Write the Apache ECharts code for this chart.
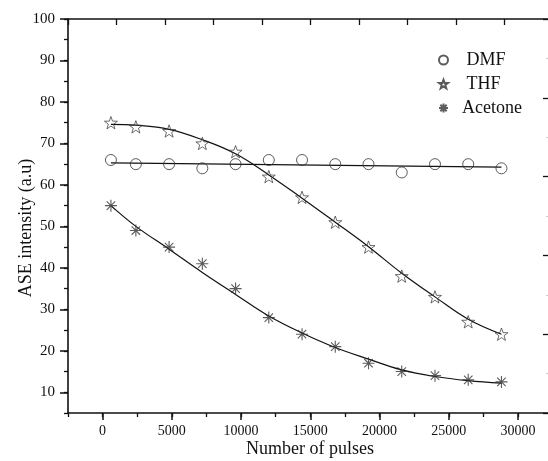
<!DOCTYPE html>
<html>
<head>
<meta charset="utf-8">
<script src="https://cdn.jsdelivr.net/npm/echarts@6/dist/echarts.min.js"></script>
<style>html,body{margin:0;padding:0;background:#fff}#c{width:548px;height:461px}</style>
</head>
<body>
<div id="c"></div>
<script>
// ---- data ----
const pulses = [600, 2400, 4800, 7200, 9600, 12000, 14400, 16800, 19200, 21600, 24000, 26400, 28800];
const dmf = [66, 65, 65, 64, 65, 66, 66, 65, 65, 63, 65, 65, 64];
const thf = [75, 74, 73, 70, 68, 62, 57, 51, 45, 38, 33, 27, 24];
const acetone = [55, 49, 45, 41, 35, 28, 24, 21, 17, 15, 14, 13, 12.5];
const dmfFitX = [600, 28800];
const dmfFit = [65.3, 64.3];
const thfFit = [74.6, 74.4, 73.4, 70.9, 67.5, 62.4, 56.8, 51.0, 45.1, 38.7, 33.0, 27.6, 24.0];
const acetoneFit = [55.0, 50.0, 44.5, 38.9, 33.6, 28.4, 24.3, 20.8, 18.0, 15.4, 13.8, 12.8, 12.2];
const xTicks = [0, 5000, 10000, 15000, 20000, 25000, 30000];
const yTicks = [10, 20, 30, 40, 50, 60, 70, 80, 90, 100];
const seriesNames = ['DMF', 'THF', 'Acetone'];
const xTitle = 'Number of pulses';
const yTitle = 'ASE intensity (a.u)';

const pair = (xs, ys) => xs.map((x, i) => [x, ys[i]]);
const FONT = '"Liberation Serif", "Times New Roman", serif';
const INK = '#111';
const STAR = 'path://M0,-10L2.35,-3.24L9.51,-3.09L3.8,1.24L5.88,8.09L0,4L-5.88,8.09L-3.8,1.24L-9.51,-3.09L-2.35,-3.24Z';
const AST = 'path://M0,-10L0,10M-10,0L10,0M-7.07,-7.07L7.07,7.07M-7.07,7.07L7.07,-7.07';

const chart = echarts.init(document.getElementById('c'), null, {renderer: 'canvas'});
const axLine = {show: true, onZero: false, lineStyle: {color: INK, width: 1.6}};
const XMAX = 32450;
chart.setOption({
  backgroundColor: '#fff',
  animation: false,
  grid: {left: 68, top: 19, right: -4, bottom: 48, containLabel: false, outerBoundsMode: 'none'},
  legend: {
    orient: 'vertical', left: 433, top: 46, itemWidth: 9, itemHeight: 9, itemGap: 6,
    data: seriesNames,
    formatter: n => (n === 'Acetone' ? '  ' : '   ') + n,
    textStyle: {fontFamily: FONT, fontSize: 18, color: INK}
  },
  xAxis: [
    {type: 'value', position: 'bottom', min: -2500, max: XMAX,
     name: xTitle, nameLocation: 'middle', nameGap: 27, nameMoveOverlap: false,
     nameTextStyle: {fontFamily: FONT, fontSize: 18, color: INK},
     axisLine: axLine,
     axisTick: {show: true, inside: false, length: 7, customValues: xTicks, lineStyle: {color: INK, width: 1.5}},
     axisLabel: {customValues: xTicks, margin: 11, fontFamily: FONT, fontSize: 14, color: INK,
                 formatter: v => String(v)},
     splitLine: {show: false}},
    {type: 'value', position: 'bottom', min: -2500, max: XMAX, interval: 2500,
     axisLine: {show: false, onZero: false},
     axisTick: {show: true, length: 4, lineStyle: {color: INK, width: 1.3}},
     axisLabel: {show: false}, splitLine: {show: false}},
    {type: 'value', position: 'top', min: -2500, max: XMAX, interval: 3500,
     axisLine: axLine,
     axisTick: {show: true, inside: true, length: 6, lineStyle: {color: INK, width: 1.3}},
     axisLabel: {show: false}, splitLine: {show: false}}
  ],
  yAxis: [
    {type: 'value', position: 'left', min: 5, max: 100,
     name: yTitle, nameLocation: 'middle', nameGap: 33, nameMoveOverlap: false,
     nameTextStyle: {fontFamily: FONT, fontSize: 18, color: INK, padding: [0, 24, 0, 0]},
     axisLine: axLine,
     axisTick: {show: true, length: 8, customValues: yTicks, lineStyle: {color: INK, width: 1.5}},
     axisLabel: {customValues: yTicks, margin: 13, fontFamily: FONT, fontSize: 15, color: INK},
     splitLine: {show: false}},
    {type: 'value', position: 'left', min: 5, max: 100, interval: 5,
     axisLine: {show: false, onZero: false},
     axisTick: {show: true, length: 4, lineStyle: {color: INK, width: 1.3}},
     axisLabel: {show: false}, splitLine: {show: false}},
    {type: 'value', position: 'right', min: 5, max: 100, interval: 19,
     axisLine: axLine,
     axisTick: {show: true, inside: true, length: 9, lineStyle: {color: INK, width: 1.3}},
     minorTick: {show: true, splitNumber: 2, length: 6, lineStyle: {color: '#ccc', width: 1}},
     axisLabel: {show: false}, splitLine: {show: false}}
  ],
  series: [
    {name: 'DMF fit', type: 'line', data: pair(dmfFitX, dmfFit), showSymbol: false, silent: true,
     lineStyle: {color: INK, width: 1.2}, z: 1},
    {name: 'THF fit', type: 'line', data: pair(pulses, thfFit), smooth: 0.4, showSymbol: false, silent: true,
     lineStyle: {color: INK, width: 1.2}, z: 1},
    {name: 'Acetone fit', type: 'line', data: pair(pulses, acetoneFit), smooth: 0.4, showSymbol: false, silent: true,
     lineStyle: {color: INK, width: 1.2}, z: 1},
    {name: 'DMF', type: 'scatter', data: pair(pulses, dmf), symbol: 'circle', symbolSize: 11,
     itemStyle: {color: 'rgba(255,255,255,0)', borderColor: '#333', borderWidth: 1}, z: 3},
    {name: 'THF', type: 'scatter', data: pair(pulses, thf), symbol: STAR, symbolSize: 13, symbolKeepAspect: true,
     itemStyle: {color: 'rgba(255,255,255,0)', borderColor: '#333', borderWidth: 0.9}, z: 3},
    {name: 'Acetone', type: 'scatter', data: pair(pulses, acetone), symbol: AST, symbolSize: 12,
     itemStyle: {color: '#333', borderColor: '#333', borderWidth: 1.1}, z: 3}
  ]
});
</script>
</body>
</html>
